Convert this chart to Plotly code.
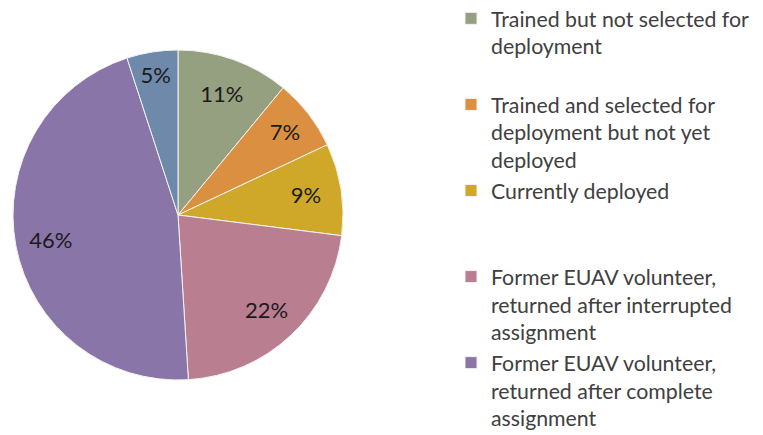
import plotly.graph_objects as go

labels = [
    "Trained but not selected for<br>deployment<br> ",
    "Trained and selected for<br>deployment but not yet<br>deployed",
    "Currently deployed<br> <br> ",
    "Former EUAV volunteer,<br>returned after interrupted<br>assignment",
    "Former EUAV volunteer,<br>returned after complete<br>assignment",
    "Other",
]
values = [11, 7, 9, 22, 46, 5]
colors = ["#94A080", "#DB8F40", "#CFA829", "#B97F90", "#8A75A8", "#6E89AA"]

# page body has an 8px margin; the figure is laid out relative to that offset
OFF = 8
W, H = 763, 435
cx, cy, r = 178 - OFF, 215 - OFF, 165
dom_x = [(cx - r) / W, (cx + r) / W]
dom_y = [(H - cy - r) / H, (H - cy + r) / H]

fig = go.Figure()
fig.add_trace(go.Pie(
    labels=labels, values=values, sort=False, direction="clockwise", rotation=0,
    marker=dict(colors=colors, line=dict(color="#F2F2F2", width=1)),
    textinfo="none", hoverinfo="label+percent", domain=dict(x=dom_x, y=dom_y),
))
fig.add_trace(go.Pie(
    labels=labels, values=values, sort=False, direction="clockwise", rotation=0,
    hole=0.57, showlegend=False,
    marker=dict(colors=["rgba(0,0,0,0)"] * len(values), line=dict(width=0)),
    textinfo="percent", textposition="inside", insidetextorientation="horizontal",
    textfont=dict(family="Lato", size=22, color="#1a1a1a"),
    hoverinfo="skip", domain=dict(x=dom_x, y=dom_y),
))
fig.update_layout(
    width=W, height=H, margin=dict(l=0, r=0, t=0, b=0, autoexpand=False),
    paper_bgcolor="white", plot_bgcolor="white",
    font=dict(family="Lato", size=21.3, color="#333333"),
    legend=dict(x=(451 - OFF) / W, xanchor="left", y=1 + 10 / H, yanchor="top", valign="top",
                font=dict(family="Lato", size=21.3, color="#404040"),
                bgcolor="rgba(0,0,0,0)", tracegroupgap=0, maxheight=700),
)
fig.write_html("out.html")
